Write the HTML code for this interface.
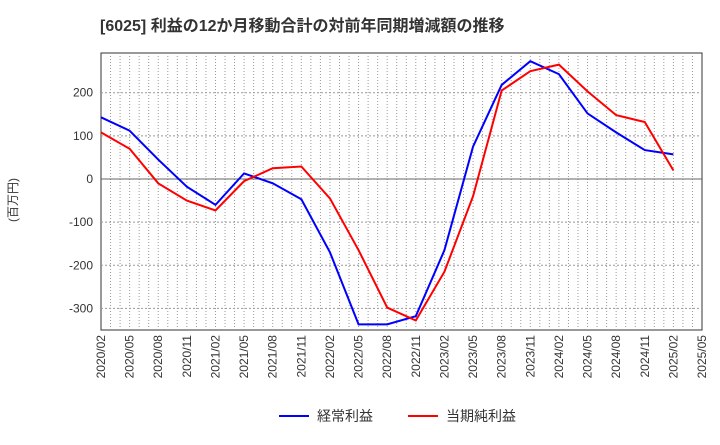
<!DOCTYPE html>
<html><head><meta charset="utf-8"><style>
body{margin:0;background:#fff;font-family:"Liberation Sans","Noto Sans CJK JP",sans-serif}
</style></head><body>
<svg id="c" width="720" height="440" xmlns="http://www.w3.org/2000/svg">
<text x="100" y="31" font-size="16" font-weight="bold" fill="#333">[6025]  利益の12か月移動合計の対前年同期増減額の推移</text>
<text transform="translate(17,200) rotate(-90)" text-anchor="middle" font-size="12" fill="#333">(百万円)</text>
<g id="grid"></g><g id="marks"></g>
<g>
<line x1="279" y1="416" x2="309" y2="416" stroke="#0000ff" stroke-width="2"/>
<text x="317" y="421" font-size="14" fill="#333">経常利益</text>
<line x1="408" y1="416" x2="438" y2="416" stroke="#ff0000" stroke-width="2"/>
<text x="446" y="421" font-size="14" fill="#333">当期純利益</text>
</g>
</svg>
<script>
const categories=["2020/02","2020/05","2020/08","2020/11","2021/02","2021/05","2021/08","2021/11","2022/02","2022/05","2022/08","2022/11","2023/02","2023/05","2023/08","2023/11","2024/02","2024/05","2024/08","2024/11","2025/02"];
const xTickLabels=["2020/02","2020/05","2020/08","2020/11","2021/02","2021/05","2021/08","2021/11","2022/02","2022/05","2022/08","2022/11","2023/02","2023/05","2023/08","2023/11","2024/02","2024/05","2024/08","2024/11","2025/02","2025/05"];
const yTicks=[200,100,0,-100,-200,-300];
const operatingProfit=[143,112,45,-18,-60,13,-10,-47,-170,-337,-337,-318,-165,75,218,273,243,152,108,67,57];
const netProfit=[108,70,-10,-50,-73,-5,25,29,-45,-165,-298,-328,-215,-40,205,250,265,203,148,132,20];
const L=101,R=702,T=53,B=330,yMax=292,yMin=-350;
const NS="http://www.w3.org/2000/svg";
const step=(R-L)/(xTickLabels.length-1);
const x=i=>L+i*step;
const y=v=>T+(yMax-v)/(yMax-yMin)*(B-T);
function mk(tag,a,parent){const e=document.createElementNS(NS,tag);for(const k in a)e.setAttribute(k,a[k]);document.getElementById(parent).appendChild(e);return e;}
const bg=mk('rect',{x:L,y:T,width:R-L,height:B-T,fill:'#fff',stroke:'#333','stroke-width':1},'grid');


for(let m=1;m<(xTickLabels.length-1)*3;m++){const xx=L+m*step/3;const g=mk('line',{x1:xx,y1:T,x2:xx,y2:B,stroke:'#999','stroke-dasharray':'1,2'},'grid');

}
yTicks.forEach(v=>{const g=mk('line',{x1:L,y1:y(v),x2:R,y2:y(v),stroke:v===0?'#666':'#999','stroke-dasharray':v===0?'':'2,2'},'grid');


const t=mk('text',{x:L-8,y:y(v)+4,'text-anchor':'end','font-size':12,fill:'#333'},'grid');t.textContent=v;

});
xTickLabels.forEach((s,i)=>{const t=mk('text',{transform:`translate(${x(i)+4},${B+5}) rotate(-90)`,'text-anchor':'end','font-size':12,fill:'#333'},'grid');t.textContent=s;

});
function line(data,color,name){const p=mk('polyline',{points:data.map((v,i)=>x(i)+','+y(v)).join(' '),fill:'none',stroke:color,'stroke-width':2},'marks');

}
line(operatingProfit,'#0000ff','operating-profit-line');
line(netProfit,'#ff0000','net-profit-line');
</script>
</body></html>
